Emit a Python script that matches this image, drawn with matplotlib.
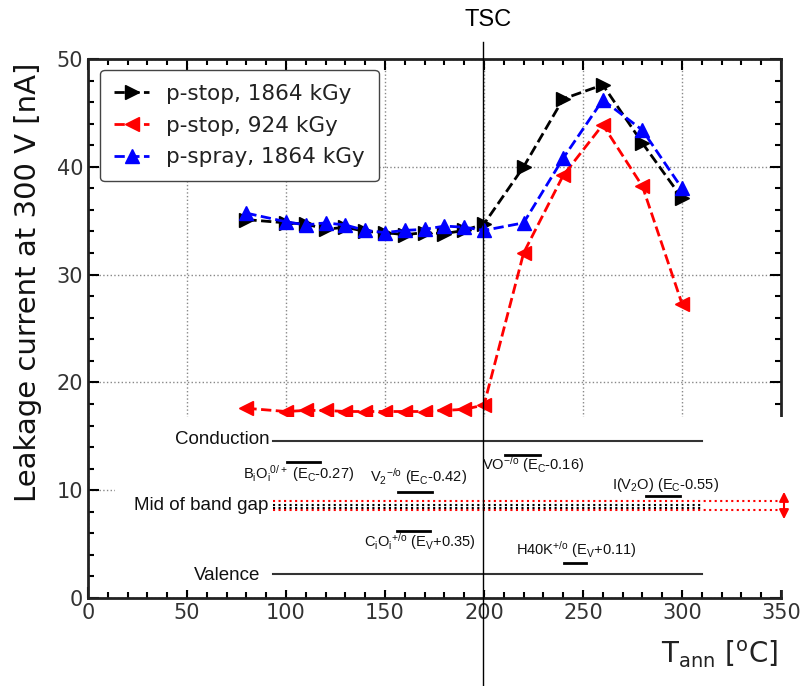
import numpy as np
import matplotlib
matplotlib.use("Agg")
from matplotlib import pyplot as plt
from matplotlib.ticker import MultipleLocator

plt.rcParams['mathtext.fontset'] = 'custom'
plt.rcParams['mathtext.rm'] = 'Liberation Sans'
plt.rcParams['mathtext.it'] = 'Liberation Sans'

# annealing temperatures [C]
t_ann = [80, 100, 110, 120, 130, 140, 150, 160, 170, 180, 190, 200, 220, 240, 260, 280, 300]

# leakage current at 300 V [nA]
pstop_1864 = [35.1, 34.8, 34.7, 34.2, 34.4, 34.0, 33.9, 33.7, 33.9, 33.8, 34.1, 34.7,
              40.0, 46.3, 47.6, 42.2, 37.1]
pstop_924 = [17.6, 17.3, 17.4, 17.4, 17.3, 17.3, 17.3, 17.3, 17.3, 17.4, 17.5, 17.9,
             32.0, 39.2, 43.9, 38.2, 27.3]
pspray_1864 = [35.7, 34.9, 34.6, 34.8, 34.6, 34.1, 33.9, 34.1, 34.2, 34.5, 34.4, 34.1,
               34.8, 40.8, 46.2, 43.4, 38.0]

# band-gap sketch: label, (text x, text y), (bar x0, bar x1, bar y)  -- pixel layout
levels = [
    (r"B$_i$O$_i$$^{0/+}$ (E$_C$-0.27)", (243, 474), (287, 320, 462)),
    (r"V$_2$$^{-/o}$ (E$_C$-0.42)", (370, 477), (398, 432, 492)),
    (r"VO$^{-/o}$ (E$_C$-0.16)", (482, 465), (505, 540, 455)),
    (r"I(V$_2$O) (E$_C$-0.55)", (612, 485), (646, 680, 496)),
    (r"C$_i$O$_i$$^{+/o}$ (E$_V$+0.35)", (364, 542), (397, 430, 531)),
    (r"H40K$^{+/o}$ (E$_V$+0.11)", (516, 550), (564, 586, 563)),
]

W, H = 805, 686
fig = plt.figure(figsize=(W / 100, H / 100), dpi=100)
ax = fig.add_axes([88 / W, (H - 598) / H, 693 / W, 539 / H])

ax.plot(t_ann, pstop_1864, '--', color='black', marker='>', markersize=10, lw=2,
        label='p-stop, 1864 kGy')
ax.plot(t_ann, pstop_924, '--', color='red', marker='<', markersize=10, lw=2,
        label='p-stop, 924 kGy')
ax.plot(t_ann, pspray_1864, '--', color='blue', marker='^', markersize=10, lw=2,
        label='p-spray, 1864 kGy')

ax.set_xlim(0, 350)
ax.set_ylim(0, 50)
ax.xaxis.set_major_locator(MultipleLocator(50))
ax.xaxis.set_minor_locator(MultipleLocator(10))
ax.yaxis.set_major_locator(MultipleLocator(10))
ax.yaxis.set_minor_locator(MultipleLocator(2))
ax.tick_params(which='both', direction='in', top=True, right=True, labelsize=15,
               width=1.5, labelcolor='#333333')
ax.tick_params(which='major', length=8)
ax.tick_params(which='minor', length=4)
for s in ax.spines.values():
    s.set_linewidth(2)
    s.set_color('#222222')
ax.grid(True, which='major', linestyle=':', color='#888888', lw=1)

ax.set_ylabel('Leakage current at 300 V [nA]', fontsize=21, color='#111111')
ax.yaxis.set_label_coords(-0.066, 0.585)
ax.set_xlabel(r'T$_{\rm ann}$ [$^{\rm o}$C]', fontsize=20, math_fontfamily='dejavusans',
              color='#222222')
ax.xaxis.set_label_coords(0.912, -0.075)

leg = ax.legend(loc='upper left', bbox_to_anchor=(0.018, 0.98), borderaxespad=0,
                fontsize=15.5, numpoints=1, handlelength=1.6, fancybox=True,
                edgecolor='#444444', framealpha=1, labelspacing=0.55, borderpad=0.65)
for t in leg.get_texts():
    t.set_color('#222222')

# overlay (pasted band diagram), pixel coordinates
ov = fig.add_axes([0, 0, 1, 1], zorder=5)
ov.set_xlim(0, W)
ov.set_ylim(H, 0)
ov.axis('off')
ov.add_patch(plt.Rectangle((115, 417), W - 115, 173, facecolor='white', edgecolor='none'))

fs = dict(family='Liberation Sans', color='#111111')
ov.text(270, 439, 'Conduction', ha='right', va='center', fontsize=13.5, **fs)
ov.text(260, 575, 'Valence', ha='right', va='center', fontsize=13.5, **fs)
ov.text(268, 505, 'Mid of band gap', ha='right', va='center', fontsize=13.5, **fs)
ov.plot([273, 702], [441, 441], color='#333333', lw=1.5)
ov.plot([273, 702], [574, 574], color='#333333', lw=1.5)
ov.plot([273, 780], [501, 501], color='red', ls=':', lw=1.5)
ov.plot([273, 780], [510, 510], color='red', ls=':', lw=1.5)
ov.plot([273, 702], [504.5, 504.5], color='black', ls=':', lw=1.5)
ov.plot([273, 702], [507.5, 507.5], color='black', ls=':', lw=1.5)
ov.annotate('', xy=(784, 489), xytext=(784, 522),
            arrowprops=dict(arrowstyle='<|-|>', color='red', lw=1.5, mutation_scale=14))

for label, (tx, ty), (bx0, bx1, by) in levels:
    ov.text(tx, ty, label, ha='left', va='center', fontsize=10.5, **fs)
    ov.plot([bx0, bx1], [by, by], color='black', lw=2)

# TSC marker line
ov.plot([483, 483], [42, H], color='black', lw=1)
ov.text(488, 20, 'TSC', ha='center', va='center', fontsize=17, family='Liberation Sans')

fig.savefig('out.png', dpi=100)
